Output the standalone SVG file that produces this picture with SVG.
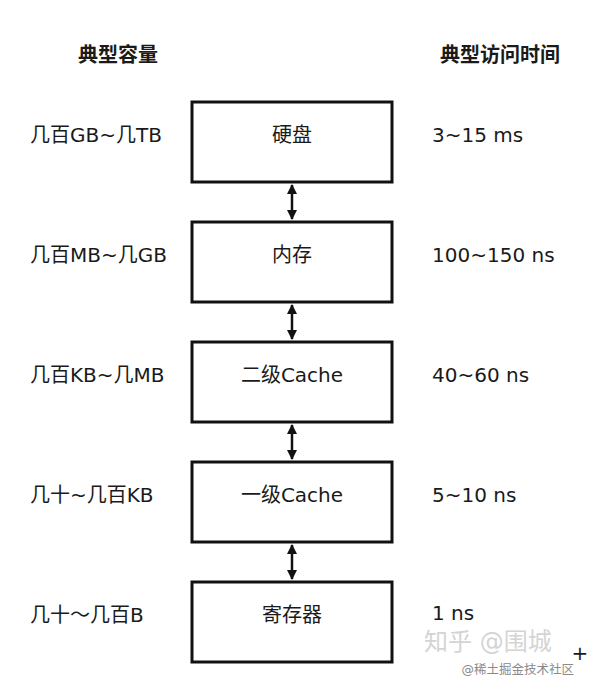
<svg xmlns="http://www.w3.org/2000/svg" width="592" height="696" viewBox="0 0 592 696">
<defs>
<style>
text{font-family:"DejaVu Sans","Noto Sans CJK SC",sans-serif;font-size:20px;fill:#1a1a1a}
.h{font-weight:bold}
.box{fill:#fff;stroke:#111;stroke-width:3}
.c{text-anchor:middle}
.conn line{stroke:#111;stroke-width:2.5}
.wm{fill:#d4d4d4;font-size:24px}
.wm2{fill:#8a8a8a;font-size:12.5px}
</style>
<marker id="ah" viewBox="0 0 10 10" refX="9" refY="5" markerWidth="4" markerHeight="4" orient="auto-start-reverse" markerUnits="strokeWidth">
<path d="M0,0 L10,5 L0,10 z" fill="#111"/>
</marker>
</defs>
<rect width="592" height="696" fill="#fff"/>
<text x="118" y="62" class="c h">典型容量</text>
<text x="500" y="62" class="c h">典型访问时间</text>

<g id="n1"><rect class="box" x="192" y="102" width="200" height="80"/><text x="292" y="142" class="c">硬盘</text></g>
<g id="n2"><rect class="box" x="192" y="222" width="200" height="80"/><text x="292" y="262" class="c">内存</text></g>
<g id="n3"><rect class="box" x="192" y="342" width="200" height="80"/><text x="292" y="382" class="c">二级Cache</text></g>
<g id="n4"><rect class="box" x="192" y="462" width="200" height="80"/><text x="292" y="502" class="c">一级Cache</text></g>
<g id="n5"><rect class="box" x="192" y="582" width="200" height="80"/><text x="292" y="622" class="c">寄存器</text></g>

<g id="labels-left">
<text x="30" y="142">几百GB~几TB</text>
<text x="30" y="262">几百MB~几GB</text>
<text x="30" y="382">几百KB~几MB</text>
<text x="30" y="502">几十~几百KB</text>
<text x="30" y="622">几十〜几百B</text>
</g>
<g id="labels-right">
<text x="432" y="142">3~15 ms</text>
<text x="432" y="262">100~150 ns</text>
<text x="432" y="382">40~60 ns</text>
<text x="432" y="502">5~10 ns</text>
<text x="432" y="620">1 ns</text>
</g>

<g id="connectors" class="conn">
<line x1="292" y1="185" x2="292" y2="219" marker-start="url(#ah)" marker-end="url(#ah)"/>
<line x1="292" y1="305" x2="292" y2="339" marker-start="url(#ah)" marker-end="url(#ah)"/>
<line x1="292" y1="425" x2="292" y2="459" marker-start="url(#ah)" marker-end="url(#ah)"/>
<line x1="292" y1="545" x2="292" y2="579" marker-start="url(#ah)" marker-end="url(#ah)"/>
</g>

<g id="watermark">
<text x="424" y="650" class="wm">知乎 @围城</text>
<text x="574" y="674" class="wm2" text-anchor="end">@稀土掘金技术社区</text>
<text x="580" y="660" fill="#888" font-size="12" text-anchor="middle">+</text>
</g>
</svg>
